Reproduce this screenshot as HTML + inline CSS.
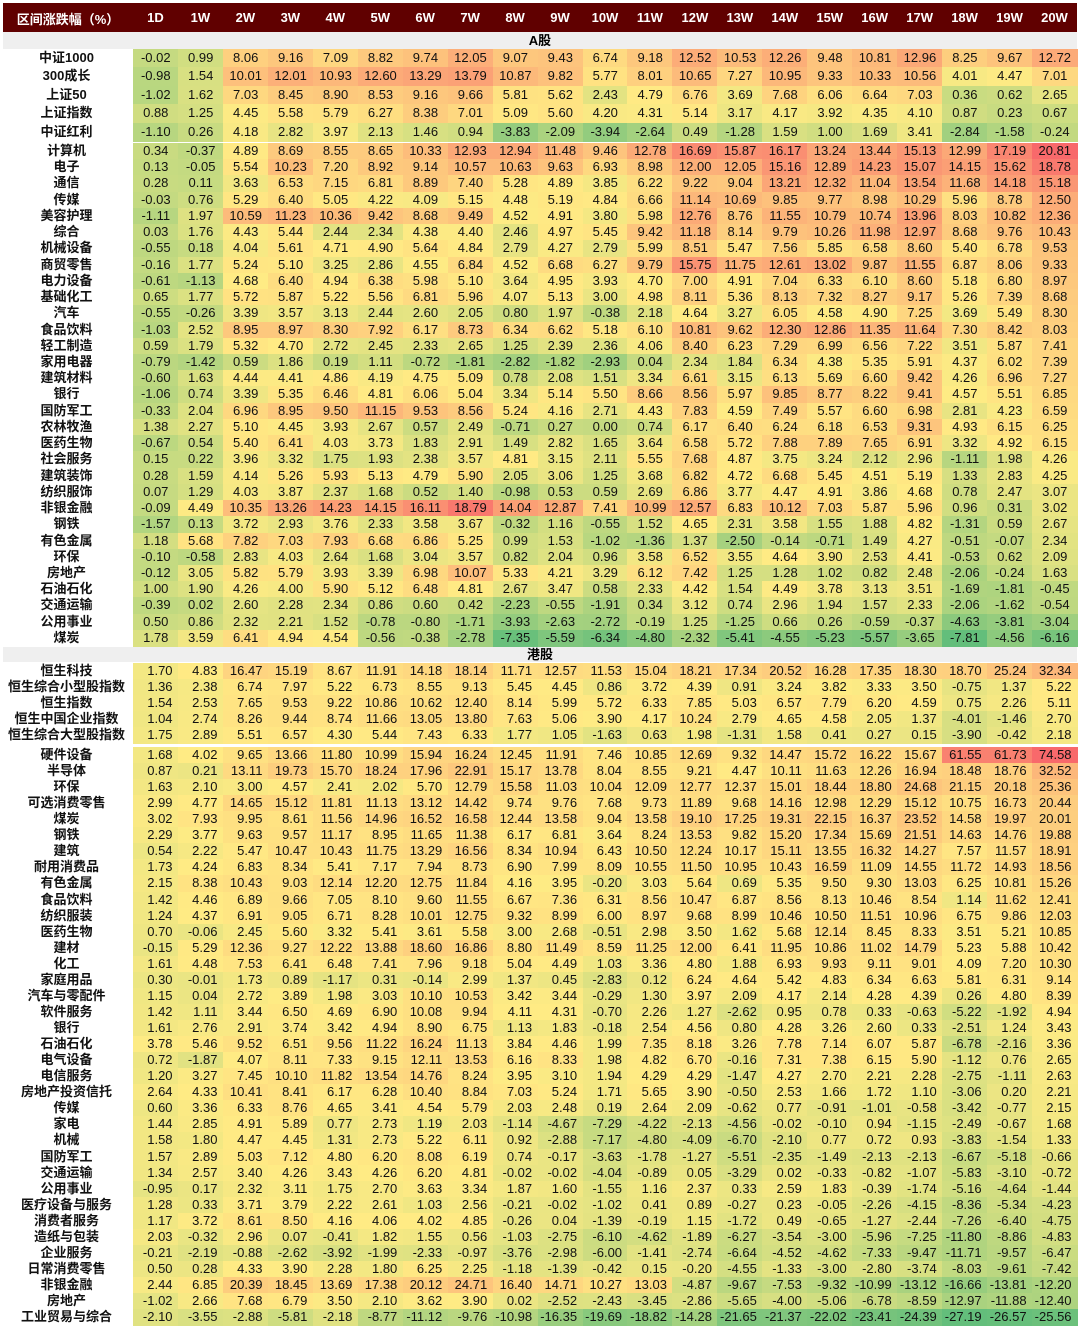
<!DOCTYPE html>
<html><head><meta charset="utf-8">
<style>
body{margin:0;background:#fff;width:1080px;height:1330px;position:relative;overflow:hidden;font-family:"Liberation Sans","Noto Sans CJK SC",sans-serif;}
.c{position:absolute;font-size:13px;color:#111;box-sizing:border-box;white-space:nowrap;}
.lab{font-weight:bold;text-align:center;}
.hd{position:absolute;color:#fff;font-weight:bold;font-size:13px;text-align:center;}
.sec{position:absolute;left:3px;width:1074px;background:#efefef;font-weight:bold;font-size:13px;text-align:center;}
</style></head><body>
<div style="position:absolute;left:3px;top:3px;width:1074px;height:29px;background:#600000"></div>
<div id="root"></div>
<script>
const periods=["1D","1W","2W","3W","4W","5W","6W","7W","8W","9W","10W","11W","12W","13W","14W","15W","16W","17W","18W","19W","20W"];
const aIdxLabels=["中证1000","300成长","上证50","上证指数","中证红利"];
const aIdxValues=[
[-0.02,0.99,8.06,9.16,7.09,8.82,9.74,12.05,9.07,9.43,6.74,9.18,12.52,10.53,12.26,9.48,10.81,12.96,8.25,9.67,12.72],
[-0.98,1.54,10.01,12.01,10.93,12.60,13.29,13.79,10.87,9.82,5.77,8.01,10.65,7.27,10.95,9.33,10.33,10.56,4.01,4.47,7.01],
[-1.02,1.62,7.03,8.45,8.90,8.53,9.16,9.66,5.81,5.62,2.43,4.79,6.76,3.69,7.68,6.06,6.64,7.03,0.36,0.62,2.65],
[0.88,1.25,4.45,5.58,5.79,6.27,8.38,7.01,5.09,5.60,4.20,4.31,5.14,3.17,4.17,3.92,4.35,4.10,0.87,0.23,0.67],
[-1.10,0.26,4.18,2.82,3.97,2.13,1.46,0.94,-3.83,-2.09,-3.94,-2.64,0.49,-1.28,1.59,1.00,1.69,3.41,-2.84,-1.58,-0.24]];
const aIndLabels=["计算机","电子","通信","传媒","美容护理","综合","机械设备","商贸零售","电力设备","基础化工","汽车","食品饮料","轻工制造","家用电器","建筑材料","银行","国防军工","农林牧渔","医药生物","社会服务","建筑装饰","纺织服饰","非银金融","钢铁","有色金属","环保","房地产","石油石化","交通运输","公用事业","煤炭"];
const aIndValues=[
[0.34,-0.37,4.89,8.69,8.55,8.65,10.33,12.93,12.94,11.48,9.46,12.78,16.69,15.87,16.17,13.24,13.44,15.13,12.99,17.19,20.81],
[0.13,-0.05,5.54,10.23,7.20,8.92,9.14,10.57,10.63,9.63,6.93,8.98,12.00,12.05,15.16,12.89,14.23,15.07,14.15,15.62,18.78],
[0.28,0.11,3.63,6.53,7.15,6.81,8.89,7.40,5.28,4.89,3.85,6.22,9.22,9.04,13.21,12.32,11.04,13.54,11.68,14.18,15.18],
[-0.03,0.76,5.29,6.40,5.05,4.22,4.09,5.15,4.48,5.19,4.84,6.66,11.14,10.69,9.85,9.77,8.98,10.29,5.96,8.78,12.50],
[-1.11,1.97,10.59,11.23,10.36,9.42,8.68,9.49,4.52,4.91,3.80,5.98,12.76,8.76,11.55,10.79,10.74,13.96,8.03,10.82,12.36],
[0.03,1.76,4.43,5.44,2.44,2.34,4.38,4.40,2.46,4.97,5.45,9.42,11.18,8.14,9.79,10.26,11.98,12.97,8.68,9.76,10.43],
[-0.55,0.18,4.04,5.61,4.71,4.90,5.64,4.84,2.79,4.27,2.79,5.99,8.51,5.47,7.56,5.85,6.58,8.60,5.40,6.78,9.53],
[-0.16,1.77,5.24,5.10,3.25,2.86,4.55,6.84,4.52,6.68,6.27,9.79,15.75,11.75,12.61,13.02,9.87,11.55,6.87,8.06,9.33],
[-0.61,-1.13,4.68,6.40,4.94,6.38,5.98,5.10,3.64,4.95,3.93,4.70,7.00,4.91,7.04,6.33,6.10,8.60,5.18,6.80,8.97],
[0.65,1.77,5.72,5.87,5.22,5.56,6.81,5.96,4.07,5.13,3.00,4.98,8.11,5.36,8.13,7.32,8.27,9.17,5.26,7.39,8.68],
[-0.55,-0.26,3.39,3.57,3.13,2.44,2.60,2.05,0.80,1.97,-0.38,2.18,4.64,3.27,6.05,4.58,4.90,7.25,3.69,5.49,8.30],
[-1.03,2.52,8.95,8.97,8.30,7.92,6.17,8.73,6.34,6.62,5.18,6.10,10.81,9.62,12.30,12.86,11.35,11.64,7.30,8.42,8.03],
[0.59,1.79,5.32,4.70,2.72,2.45,2.33,2.65,1.25,2.39,2.36,4.06,8.40,6.23,7.29,6.99,6.56,7.22,3.51,5.87,7.41],
[-0.79,-1.42,0.59,1.86,0.19,1.11,-0.72,-1.81,-2.82,-1.82,-2.93,0.04,2.34,1.84,6.34,4.38,5.35,5.91,4.37,6.02,7.39],
[-0.60,1.63,4.44,4.41,4.86,4.19,4.75,5.09,0.78,2.08,1.51,3.34,6.61,3.15,6.13,5.69,6.60,9.42,4.26,6.96,7.27],
[-1.06,0.74,3.39,5.35,6.46,4.81,6.06,5.04,3.34,5.14,5.50,8.66,8.56,5.97,9.85,8.77,8.22,9.41,4.57,5.51,6.85],
[-0.33,2.04,6.96,8.95,9.50,11.15,9.53,8.56,5.24,4.16,2.71,4.43,7.83,4.59,7.49,5.57,6.60,6.98,2.81,4.23,6.59],
[1.38,2.27,5.10,4.45,3.93,2.67,0.57,2.49,-0.71,0.27,0.00,0.74,6.17,6.40,6.24,6.18,6.53,9.31,4.93,6.15,6.25],
[-0.67,0.54,5.40,6.41,4.03,3.73,1.83,2.91,1.49,2.82,1.65,3.64,6.58,5.72,7.88,7.89,7.65,6.91,3.32,4.92,6.15],
[0.15,0.22,3.96,3.32,1.75,1.93,2.38,3.57,4.81,3.15,2.11,5.55,7.68,4.87,3.75,3.24,2.12,2.96,-1.11,1.98,4.26],
[0.28,1.59,4.14,5.26,5.93,5.13,4.79,5.90,2.05,3.06,1.25,3.68,6.82,4.72,6.68,5.45,4.51,5.19,1.33,2.83,4.25],
[0.07,1.29,4.03,3.87,2.37,1.68,0.52,1.40,-0.98,0.53,0.59,2.69,6.86,3.77,4.47,4.91,3.86,4.68,0.78,2.47,3.07],
[-0.09,4.49,10.35,13.26,14.23,14.15,16.11,18.79,14.04,12.87,7.41,10.99,12.57,6.83,10.12,7.03,5.87,5.96,0.96,0.31,3.02],
[-1.57,0.13,3.72,2.93,3.76,2.33,3.58,3.67,-0.32,1.16,-0.55,1.52,4.65,2.31,3.58,1.55,1.88,4.82,-1.31,0.59,2.67],
[1.18,5.68,7.82,7.03,7.93,6.68,6.86,5.25,0.99,1.53,-1.02,-1.36,1.37,-2.50,-0.14,-0.71,1.49,4.27,-0.51,-0.07,2.34],
[-0.10,-0.58,2.83,4.03,2.64,1.68,3.04,3.57,0.82,2.04,0.96,3.58,6.52,3.55,4.64,3.90,2.53,4.41,-0.53,0.62,2.09],
[-0.12,3.05,5.82,5.79,3.93,3.39,6.98,10.07,5.33,4.21,3.29,6.12,7.42,1.25,1.28,1.02,0.82,2.48,-2.06,-0.24,1.63],
[1.00,1.90,4.26,4.00,5.90,5.12,6.48,4.81,2.67,3.47,0.58,2.33,4.42,1.54,4.49,3.78,3.13,3.51,-1.69,-1.81,-0.45],
[-0.39,0.02,2.60,2.28,2.34,0.86,0.60,0.42,-2.23,-0.55,-1.91,0.34,3.12,0.74,2.96,1.94,1.57,2.33,-2.06,-1.62,-0.54],
[0.50,0.86,2.32,2.21,1.52,-0.78,-0.80,-1.71,-3.93,-2.63,-2.72,-0.19,1.25,-1.25,0.66,0.26,-0.59,-0.37,-4.63,-3.81,-3.04],
[1.78,3.59,6.41,4.94,4.54,-0.56,-0.38,-2.78,-7.35,-5.59,-6.34,-4.80,-2.32,-5.41,-4.55,-5.23,-5.57,-3.65,-7.81,-4.56,-6.16]];
const hIdxLabels=["恒生科技","恒生综合小型股指数","恒生指数","恒生中国企业指数","恒生综合大型股指数"];
const hIdxValues=[
[1.70,4.83,16.47,15.19,8.67,11.91,14.18,18.14,11.71,12.57,11.53,15.04,18.21,17.34,20.52,16.28,17.35,18.30,18.70,25.24,32.34],
[1.36,2.38,6.74,7.97,5.22,6.73,8.55,9.13,5.45,4.45,0.86,3.72,4.39,0.91,3.24,3.82,3.33,3.50,-0.75,1.37,5.22],
[1.54,2.53,7.65,9.53,9.22,10.86,10.62,12.40,8.14,5.99,5.72,6.33,7.85,5.03,6.57,7.79,6.20,4.59,0.75,2.26,5.11],
[1.04,2.74,8.26,9.44,8.74,11.66,13.05,13.80,7.63,5.06,3.90,4.17,10.24,2.79,4.65,4.58,2.05,1.37,-4.01,-1.46,2.70],
[1.75,2.89,5.51,6.57,4.30,5.44,7.43,6.33,1.77,1.05,-1.63,0.63,1.98,-1.31,1.58,0.41,0.27,0.15,-3.90,-0.42,2.18]];
const hIndLabels=["硬件设备","半导体","环保","可选消费零售","煤炭","钢铁","建筑","耐用消费品","有色金属","食品饮料","纺织服装","医药生物","建材","化工","家庭用品","汽车与零配件","软件服务","银行","石油石化","电气设备","电信服务","房地产投资信托","传媒","家电","机械","国防军工","交通运输","公用事业","医疗设备与服务","消费者服务","造纸与包装","企业服务","日常消费零售","非银金融","房地产","工业贸易与综合"];
const hIndValues=[
[1.68,4.02,9.65,13.66,11.80,10.99,15.94,16.24,12.45,11.91,7.46,10.85,12.69,9.32,14.47,15.72,16.22,15.67,61.55,61.73,74.58],
[0.87,0.21,13.11,19.73,15.70,18.24,17.96,22.91,15.17,13.78,8.04,8.55,9.21,4.47,10.11,11.63,12.26,16.94,18.48,18.76,32.52],
[1.63,2.10,3.00,4.57,2.41,2.02,5.70,12.79,15.58,11.03,10.04,12.09,12.77,12.37,15.01,18.44,18.80,24.68,21.15,20.18,25.36],
[2.99,4.77,14.65,15.12,11.81,11.13,13.12,14.42,9.74,9.76,7.68,9.73,11.89,9.68,14.16,12.98,12.29,15.12,10.75,16.73,20.44],
[3.02,7.93,9.95,8.61,11.56,14.96,16.52,16.58,12.44,13.58,9.04,13.58,19.10,17.25,19.31,22.15,16.37,23.52,14.58,19.97,20.01],
[2.29,3.77,9.63,9.57,11.17,8.95,11.65,11.38,6.17,6.81,3.64,8.24,13.53,9.82,15.20,17.34,15.69,21.51,14.63,14.76,19.88],
[0.54,2.22,5.47,10.47,10.43,11.75,13.29,16.56,8.34,10.94,6.43,10.50,12.24,10.17,15.11,13.55,16.32,14.27,7.57,11.57,18.91],
[1.73,4.24,6.83,8.34,5.41,7.17,7.94,8.73,6.90,7.99,8.09,10.55,11.50,10.95,10.43,16.59,11.09,14.55,11.72,14.93,18.56],
[2.15,8.38,10.43,9.03,12.14,12.20,12.75,11.84,4.16,3.95,-0.20,3.03,5.64,0.69,5.35,9.50,9.30,13.03,6.25,10.81,15.26],
[1.42,4.46,6.89,9.66,7.05,8.10,9.60,11.55,6.67,7.36,6.31,8.56,10.47,6.87,8.56,8.13,10.46,8.54,1.14,11.62,12.41],
[1.24,4.37,6.91,9.05,6.71,8.28,10.01,12.75,9.32,8.99,6.00,8.97,9.68,8.99,10.46,10.50,11.51,10.96,6.75,9.86,12.03],
[0.70,-0.06,2.45,5.60,3.32,5.41,3.61,5.58,3.00,2.68,-0.51,2.98,3.50,1.62,5.68,12.14,8.45,8.33,3.51,5.21,10.85],
[-0.15,5.29,12.36,9.27,12.22,13.88,18.60,16.86,8.80,11.49,8.59,11.25,12.00,6.41,11.95,10.86,11.02,14.79,5.23,5.88,10.42],
[1.61,4.48,7.53,6.41,6.48,7.41,7.96,9.18,5.04,4.49,1.03,3.36,4.80,1.88,6.93,9.93,9.11,9.01,4.09,7.20,10.30],
[0.30,-0.01,1.73,0.89,-1.17,0.31,-0.14,2.99,1.37,0.45,-2.83,0.12,6.24,4.64,5.42,4.83,6.34,6.63,5.81,6.31,9.14],
[1.15,0.04,2.72,3.89,1.98,3.03,10.10,10.53,3.42,3.44,-0.29,1.30,3.97,2.09,4.17,2.14,4.28,4.39,0.26,4.80,8.39],
[1.42,1.11,3.44,6.50,4.69,6.90,10.08,9.94,4.11,4.31,-0.70,2.26,1.27,-2.62,0.95,0.78,0.33,-0.63,-5.22,-1.92,4.94],
[1.61,2.76,2.91,3.74,3.42,4.94,8.90,6.75,1.13,1.83,-0.18,2.54,4.56,0.80,4.28,3.26,2.60,0.33,-2.51,1.24,3.43],
[3.78,5.46,9.52,6.51,9.56,11.22,16.24,11.13,3.84,4.46,1.99,7.35,8.18,3.26,7.78,7.14,6.07,5.87,-6.78,-2.16,3.36],
[0.72,-1.87,4.07,8.11,7.33,9.15,12.11,13.53,6.16,8.33,1.98,4.82,6.70,-0.16,7.31,7.38,6.15,5.90,-1.12,0.76,2.65],
[1.20,3.27,7.45,10.10,11.82,13.54,14.76,8.24,3.95,3.10,1.94,4.29,4.29,-1.47,4.27,2.70,2.21,2.28,-2.75,-1.11,2.63],
[2.64,4.33,10.41,8.41,6.17,6.28,10.40,8.84,7.03,5.24,1.71,5.65,3.90,-0.50,2.53,1.66,1.72,1.10,-3.06,0.20,2.21],
[0.60,3.36,6.33,8.76,4.65,3.41,4.54,5.79,2.03,2.48,0.19,2.64,2.09,-0.62,0.77,-0.91,-1.01,-0.58,-3.42,-0.77,2.15],
[1.44,2.85,4.91,5.89,0.77,2.73,1.19,2.03,-1.14,-4.67,-7.29,-4.22,-2.13,-4.56,-0.02,-0.10,0.94,-1.15,-2.49,-0.67,1.68],
[1.58,1.80,4.47,4.45,1.31,2.73,5.22,6.11,0.92,-2.88,-7.17,-4.80,-4.09,-6.70,-2.10,0.77,0.72,0.93,-3.83,-1.54,1.33],
[1.57,2.89,5.03,7.12,4.80,6.20,8.08,6.19,0.74,-0.17,-3.63,-1.78,-1.27,-5.51,-2.35,-1.49,-2.13,-2.13,-6.67,-5.18,-0.66],
[1.34,2.57,3.40,4.26,3.43,4.26,6.20,4.81,-0.02,-0.02,-4.04,-0.89,0.05,-3.29,0.02,-0.33,-0.82,-1.07,-5.83,-3.10,-0.72],
[-0.95,0.17,2.32,3.11,1.75,2.70,3.63,3.34,1.87,1.60,-1.55,1.16,2.37,0.33,2.59,1.83,-0.39,-1.74,-5.16,-4.64,-1.44],
[1.28,0.33,3.71,3.79,2.22,2.61,1.03,2.56,-0.21,-0.02,-1.02,0.41,0.89,-0.27,0.23,-0.05,-2.26,-4.15,-8.36,-5.34,-4.23],
[1.17,3.72,8.61,8.50,4.16,4.06,4.02,4.85,-0.26,0.04,-1.39,-0.19,1.15,-1.72,0.49,-0.65,-1.27,-2.44,-7.26,-6.40,-4.75],
[2.03,-0.32,2.96,0.07,-0.41,1.82,1.55,0.56,-1.03,-2.75,-6.10,-4.62,-1.89,-6.27,-3.54,-3.00,-5.96,-7.25,-11.80,-8.86,-4.83],
[-0.21,-2.19,-0.88,-2.62,-3.92,-1.99,-2.33,-0.97,-3.76,-2.98,-6.00,-1.41,-2.74,-6.64,-4.52,-4.62,-7.33,-9.47,-11.71,-9.57,-6.47],
[0.50,0.28,4.33,3.90,2.28,1.80,6.25,2.25,-1.18,-1.39,-0.42,0.15,-0.20,-4.55,-1.33,-3.00,-2.80,-3.74,-8.03,-9.61,-7.42],
[2.44,6.85,20.39,18.45,13.69,17.38,20.12,24.71,16.40,14.71,10.27,13.03,-4.87,-9.67,-7.53,-9.32,-10.99,-13.12,-16.66,-13.81,-12.20],
[-1.02,2.66,7.68,6.79,3.50,2.10,3.62,3.90,0.02,-2.52,-2.43,-3.45,-2.86,-5.65,-4.00,-5.06,-6.78,-8.59,-12.97,-11.88,-12.40],
[-2.10,-3.55,-2.88,-5.81,-2.18,-8.77,-11.12,-9.76,-10.98,-16.35,-19.69,-18.82,-14.28,-21.65,-21.37,-22.02,-23.41,-24.39,-27.19,-26.57,-25.56]];

const root=document.getElementById('root');
const X0=133, CW=44.95;
const colX=i=>X0+i*CW;
function mk(cls,style,text){const d=document.createElement('div');d.className=cls;d.setAttribute('style',style);if(text!=null)d.textContent=text;root.appendChild(d);return d;}

let h=mk('hd','left:3px;top:9px;width:130px;','区间涨跌幅（%）');


periods.forEach((p,i)=>{const d=mk('hd',`left:${colX(i)}px;top:10px;width:${CW}px;`,p);

});

function sec(top,hgt,text,name){const d=mk('sec',`top:${top}px;height:${hgt}px;line-height:${hgt}px;`,text);

}
sec(32,17,'A股','section-a-shares');
sec(647,15,'港股','section-hk-shares');

function lerp(a,b,t){return a.map((v,k)=>Math.round(v+(b[k]-v)*t));}
const G=[99,190,123],Y=[255,235,132],R=[248,105,107];
function makeScale(arrs){
  const all=arrs.flat(2).slice().sort((a,b)=>a-b);
  const mn=all[0],mx=all[all.length-1];
  const md=all.length%2?all[(all.length-1)/2]:(all[all.length/2-1]+all[all.length/2])/2;
  return v=>{let c;if(v<=md)c=lerp(G,Y,md===mn?1:(v-mn)/(md-mn));else c=lerp(Y,R,(v-md)/(mx-md));return `rgb(${c[0]},${c[1]},${c[2]})`;};
}
function block(labels,values,top,rh,align,bname,col){
  labels.forEach((lab,r)=>{
    const y=top+r*rh;
    const l=mk('c lab',`left:0;top:${y}px;width:133px;height:${rh}px;line-height:${rh}px;`,lab);
    
    
    values[r].forEach((v,i)=>{
      const x0=colX(i),x1=colX(i+1);
      const c=mk('c',`left:${x0}px;top:${y}px;width:${x1-x0+0.6}px;height:${rh+0.6}px;line-height:${rh}px;background:${col(v)};text-align:${align};padding-right:${align==='right'?6:0}px;`,v.toFixed(2));
      
      
    });
  });
}
const aScale=makeScale([aIdxValues,aIndValues]);
const hScale=makeScale([hIdxValues,hIndValues]);
block(aIdxLabels,aIdxValues,49,18.4,'center','a-index',aScale);
block(aIndLabels,aIndValues,143,16.23,'center','a-industry',aScale);
block(hIdxLabels,hIdxValues,663,16.1,'right','hk-index',hScale);
block(hIndLabels,hIndValues,747,16.06,'right','hk-industry',hScale);
</script>
</body></html>
